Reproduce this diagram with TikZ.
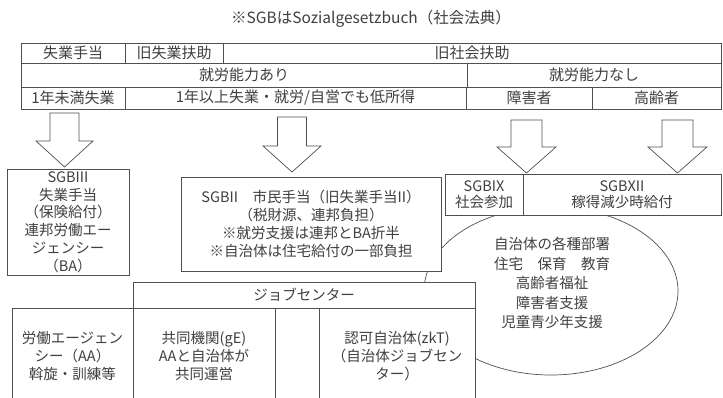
\documentclass[tikz,border=0pt]{standalone}
\usepackage{fontspec}
\setmainfont{Noto Sans CJK JP}
\usetikzlibrary{shapes.geometric}
\definecolor{linec}{HTML}{505050}
\definecolor{textc}{HTML}{404040}
\newcommand\myfs{\fontsize{14.5}{17.8}\selectfont}
\newcommand\myfst{\fontsize{15}{17.8}\selectfont}
\newcommand\myfsb{\fontsize{14.5}{19.5}\selectfont}
\newcommand\myfsc{\fontsize{14.5}{16}\selectfont}
\begin{document}
\begin{tikzpicture}[x=1pt,y=-1pt,
  lin/.style={draw=linec, line width=0.7pt},
  cell/.style={lin, fill=white, inner sep=0pt, outer sep=0pt, align=center, text=textc, font=\myfs, anchor=north west},
  tcell/.style={cell, font=\myfst},
  txt/.style={inner sep=0pt, align=center, text=textc},
  blk/.style={lin, fill=white, line join=miter}]
\useasboundingbox (0,0) rectangle (723,397);
\clip (0,0) rectangle (723,397);
\fill[white] (0,0) rectangle (723,397);

% title
\node[txt, font=\fontsize{15.5}{18}\selectfont] (title) at (371,19) {※SGBはSozialgesetzbuch（社会法典）};

% table
\node[tcell, minimum width=104pt, minimum height=20pt] (c11) at (21,43) {失業手当};
\node[tcell, minimum width=98pt, minimum height=20pt] (c12) at (125,43) {旧失業扶助};
\node[tcell, minimum width=498pt, minimum height=20pt] (c13) at (223,43) {旧社会扶助};
\node[tcell, minimum width=446pt, minimum height=24pt] (c21) at (21,63) {就労能力あり};
\node[tcell, minimum width=254pt, minimum height=24pt] (c22) at (467,63) {就労能力なし};
\node[tcell, minimum width=104pt, minimum height=22pt] (c31) at (21,87) {1年未満失業};
\node[tcell, minimum width=341pt, minimum height=22pt] (c32) at (125,87) {1年以上失業・就労/自営でも低所得};
\node[tcell, minimum width=126pt, minimum height=22pt] (c33) at (466,87) {障害者};
\node[tcell, minimum width=129pt, minimum height=22pt] (c34) at (592,87) {高齢者};

% block arrows
\draw[blk] (50,113) -- (79,113) -- (79,141) -- (93,141) -- (64.5,167) -- (36,141) -- (50,141) -- cycle;
\draw[blk] (277.5,117) -- (306.5,117) -- (306.5,146) -- (321,146) -- (292,172) -- (263,146) -- (277.5,146) -- cycle;
\draw[blk] (511,120) -- (542,120) -- (542,147) -- (556,147) -- (526.5,173) -- (497,147) -- (511,147) -- cycle;
\draw[blk] (662,120) -- (693,120) -- (693,147) -- (707,147) -- (677.5,173) -- (648,147) -- (662,147) -- cycle;

% ellipse (behind boxes)
\node[lin, fill=white, ellipse, inner sep=0pt, minimum width=254pt, minimum height=168pt] (ell) at (551,291) {};
\node[txt, font=\myfsb] (elltext) at (552,283) {自治体の各種部署\\住宅　保育　教育\\高齢者福祉\\障害者支援\\児童青少年支援};

% program boxes
\node[cell, minimum width=122pt, minimum height=106pt] (sgb3) at (7,169) {SGBIII\\失業手当\\（保険給付）\\連邦労働エー\\ジェンシー\\（BA）};
\node[cell, minimum width=260pt, minimum height=94pt] (sgb2) at (181,177) {SGBII　市民手当（旧失業手当II）\\（税財源、連邦負担）\\※就労支援は連邦とBA折半\\※自治体は住宅給付の一部負担};
\node[cell, font=\myfsc, minimum width=78pt, minimum height=41pt] (sgb9) at (445,174) {SGBIX\\社会参加};
\node[cell, font=\myfsc, minimum width=198pt, minimum height=41pt] (sgb12) at (523,174) {SGBXII\\稼得減少時給付};

% job center
\node[cell, minimum width=342pt, minimum height=26pt] (jc) at (133,282) {ジョブセンター};
\node[cell, minimum width=121pt, minimum height=96pt] (aa) at (12,308) {労働エージェン\\シー（AA）\\斡旋・訓練等};
\node[cell, minimum width=142pt, minimum height=96pt] (ge) at (133,308) {共同機関(gE)\\AAと自治体が\\共同運営};
\node[cell, minimum width=156pt, minimum height=96pt] (zkt) at (319,308) {認可自治体(zkT)\\（自治体ジョブセン\\ター）};
\end{tikzpicture}
\end{document}
